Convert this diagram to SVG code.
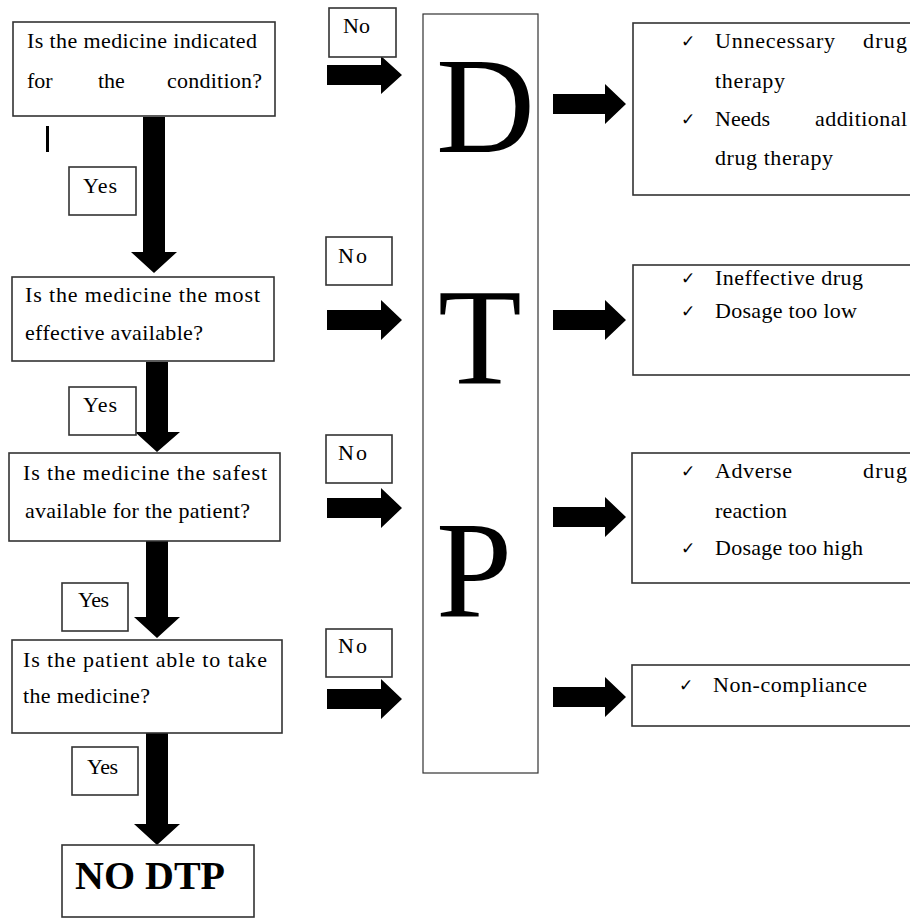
<svg xmlns="http://www.w3.org/2000/svg" width="910" height="920" viewBox="0 0 910 920">
<style>
.box{fill:#fff;stroke:#333;stroke-width:1.6}
.thin{fill:#fff;stroke:#333;stroke-width:1.2}
.t{font-family:"Liberation Serif","Times New Roman",serif;font-size:22px;fill:#000}
.big{font-family:"Liberation Serif","Times New Roman",serif;font-size:137px;fill:#000}
.bold{font-family:"Liberation Serif","Times New Roman",serif;font-size:40px;font-weight:bold;fill:#000}
.ck{font-family:"DejaVu Sans",sans-serif;font-size:17px;fill:#000}
.arr{fill:#000}
</style>
<rect width="910" height="920" fill="#fff"/>

<g id="connectors">
<path class="arr" d="M143,117 V252 H131 L154,273 L177,252 H165 V117 Z"/>
<path class="arr" d="M146,362 V432 H135 L157,452 L180,432 H168 V362 Z"/>
<path class="arr" d="M146,541 V617 H134 L157,638 L180,617 H168 V541 Z"/>
<path class="arr" d="M146,733 V824 H134 L157,845 L180,824 H168 V733 Z"/>
<path class="arr" d="M327,65 H381 V56 L402,75 L381,94 V85 H327 Z"/>
<path class="arr" d="M327,310 H381 V300 L402,320 L381,340 V330 H327 Z"/>
<path class="arr" d="M327,498 H381 V488 L402,508 L381,528 V518 H327 Z"/>
<path class="arr" d="M327,689 H381 V679 L402,699 L381,719 V709 H327 Z"/>
<path class="arr" d="M553,94 H605 V84 L626,104 L605,124 V114 H553 Z"/>
<path class="arr" d="M553,310 H605 V300 L626,320 L605,340 V330 H553 Z"/>
<path class="arr" d="M553,507 H605 V497 L626,517 L605,537 V527 H553 Z"/>
<path class="arr" d="M553,687 H605 V677 L626,697 L605,717 V707 H553 Z"/>
</g>

<rect x="46" y="126" width="3" height="26" fill="#000"/>

<g id="q1">
<rect class="box" x="13" y="22" width="262" height="94"/>
<text class="t" x="27" y="48" textLength="230">Is the medicine indicated</text>
<text class="t" y="88"><tspan x="27">for</tspan><tspan x="98">the</tspan><tspan x="167" textLength="95">condition?</tspan></text>
</g>
<g id="q2">
<rect class="box" x="12" y="277" width="262" height="84"/>
<text class="t" x="25" y="302" textLength="235">Is the medicine the most</text>
<text class="t" x="25" y="340" textLength="178">effective available?</text>
</g>
<g id="q3">
<rect class="box" x="9" y="453" width="271" height="88"/>
<text class="t" x="23" y="480" textLength="244">Is the medicine the safest</text>
<text class="t" x="25" y="518" textLength="225">available for the patient?</text>
</g>
<g id="q4">
<rect class="box" x="12" y="640" width="270" height="93"/>
<text class="t" x="23" y="667" textLength="244">Is the patient able to take</text>
<text class="t" x="23" y="703" textLength="127">the medicine?</text>
</g>

<g id="yes1"><rect class="box" x="69" y="167" width="67" height="48"/><text class="t" x="83" y="193" textLength="34">Yes</text></g>
<g id="yes2"><rect class="box" x="69" y="387" width="67" height="48"/><text class="t" x="83" y="412" textLength="34">Yes</text></g>
<g id="yes3"><rect class="box" x="62" y="583" width="66" height="48"/><text class="t" x="78" y="607" textLength="31">Yes</text></g>
<g id="yes4"><rect class="box" x="72" y="747" width="66" height="48"/><text class="t" x="87" y="774" textLength="31">Yes</text></g>

<g id="no1"><rect class="box" x="329" y="8" width="67" height="49"/><text class="t" x="343" y="33" textLength="27">No</text></g>
<g id="no2"><rect class="box" x="326" y="237" width="66" height="48"/><text class="t" x="338" y="263" textLength="29">No</text></g>
<g id="no3"><rect class="box" x="326" y="435" width="66" height="48"/><text class="t" x="338" y="460" textLength="29">No</text></g>
<g id="no4"><rect class="box" x="326" y="629" width="66" height="48"/><text class="t" x="338" y="653" textLength="29">No</text></g>

<g id="nodtp">
<rect class="box" x="62" y="845" width="192" height="72"/>
<text class="bold" x="75" y="889" textLength="150">NO DTP</text>
</g>

<g id="dtp">
<rect class="thin" x="423" y="14" width="115" height="759"/>
<text class="big" x="436" y="152">D</text>
<text class="big" x="438" y="384">T</text>
<text class="big" x="436" y="616">P</text>
</g>

<g id="r1">
<rect class="box" x="633" y="23" width="285" height="172"/>
<text class="ck" x="681" y="47">✓</text>
<text class="t" x="715" y="48" textLength="120">Unnecessary</text>
<text class="t" x="863" y="48" textLength="44">drug</text>
<text class="t" x="715" y="88" textLength="70">therapy</text>
<text class="ck" x="681" y="125">✓</text>
<text class="t" x="715" y="126" textLength="55">Needs</text>
<text class="t" x="815" y="126" textLength="92">additional</text>
<text class="t" x="715" y="165" textLength="118">drug therapy</text>
</g>
<g id="r2">
<rect class="box" x="633" y="265" width="285" height="110"/>
<text class="ck" x="681" y="284">✓</text>
<text class="t" x="715" y="285" textLength="148">Ineffective drug</text>
<text class="ck" x="681" y="317">✓</text>
<text class="t" x="715" y="318" textLength="142">Dosage too low</text>
</g>
<g id="r3">
<rect class="box" x="632" y="453" width="286" height="130"/>
<text class="ck" x="681" y="477">✓</text>
<text class="t" x="715" y="478" textLength="77">Adverse</text>
<text class="t" x="863" y="478" textLength="44">drug</text>
<text class="t" x="715" y="518" textLength="72">reaction</text>
<text class="ck" x="681" y="554">✓</text>
<text class="t" x="715" y="555" textLength="148">Dosage too high</text>
</g>
<g id="r4">
<rect class="box" x="632" y="665" width="286" height="61"/>
<text class="ck" x="679" y="691">✓</text>
<text class="t" x="713" y="692" textLength="154">Non-compliance</text>
</g>
</svg>
